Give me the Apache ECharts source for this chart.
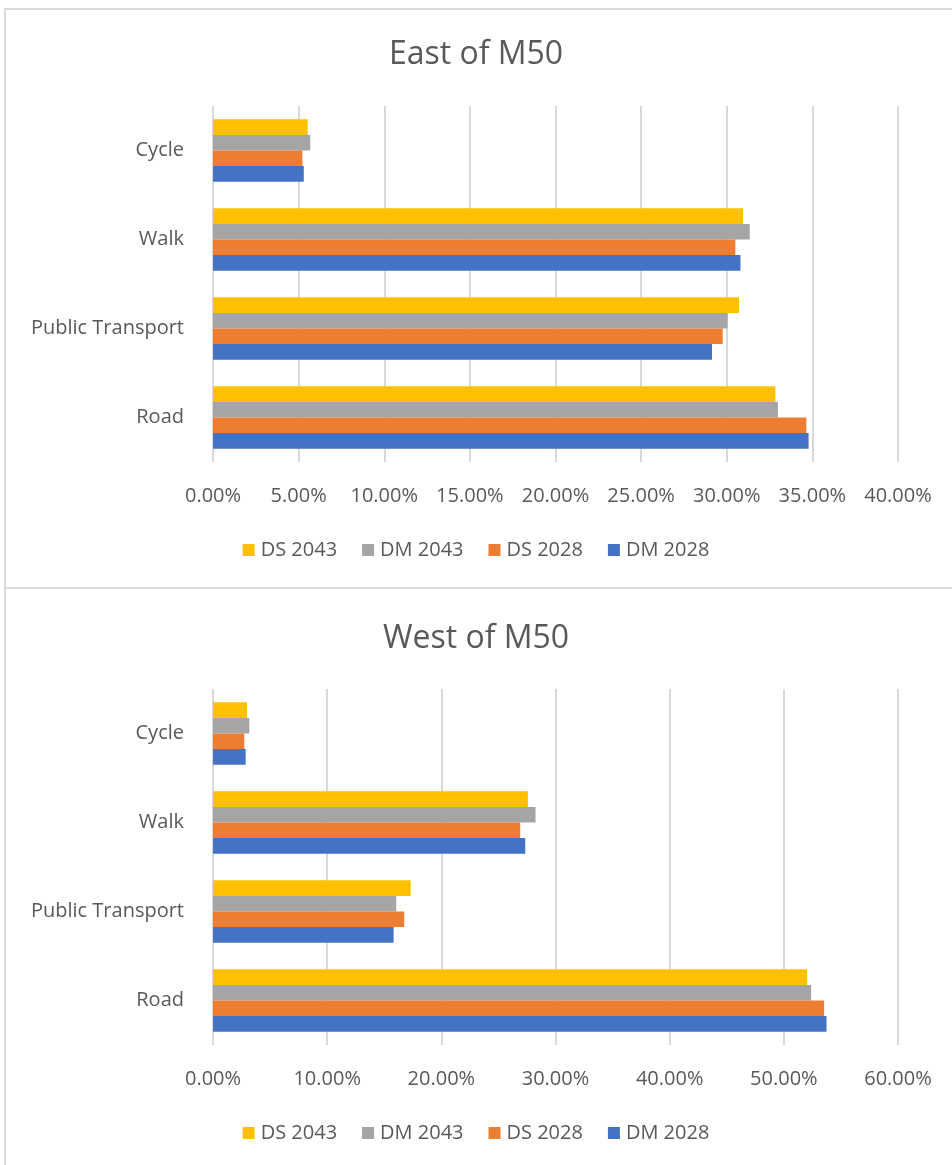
<!DOCTYPE html>
<html>
<head>
<meta charset="utf-8">
<script src="https://cdn.jsdelivr.net/npm/echarts@6/dist/echarts.min.js"></script>
<style>
  html, body { margin: 0; padding: 0; background: #fff; overflow: hidden; }
  .frame { position: absolute; box-sizing: border-box; border: 2px solid #d9d9d9; background: #fff; }
  #chart { position: absolute; left: 0; top: 0; width: 952px; height: 1165px; }
</style>
</head>
<body>
<div class="frame" style="left:4px; top:8px; width:980px; height:581px;"></div>
<div class="frame" style="left:4px; top:587px; width:980px; height:620px;"></div>
<div id="chart"></div>
<script>
// categories, bottom to top (as drawn by the category axis)
const categories = ['Road', 'Public Transport', 'Walk', 'Cycle'];
// series order: first one is drawn at the top of each group
const seriesNames = ['DS 2043', 'DM 2043', 'DS 2028', 'DM 2028'];
const seriesColors = ['#FFC000', '#A5A5A5', '#ED7D31', '#4472C4'];

// East of M50 (%)
const eastDS2043 = [32.84, 30.72, 30.95, 5.53];
const eastDM2043 = [32.99, 30.05, 31.34, 5.68];
const eastDS2028 = [34.65, 29.76, 30.50, 5.22];
const eastDM2028 = [34.78, 29.14, 30.80, 5.30];

// West of M50 (%)
const westDS2043 = [52.04, 17.31, 27.58, 2.98];
const westDM2043 = [52.39, 16.05, 28.25, 3.18];
const westDS2028 = [53.53, 16.75, 26.91, 2.74];
const westDM2028 = [53.74, 15.82, 27.35, 2.86];

const titles = ['East of M50', 'West of M50'];

const font = '"Open Sans", "Noto Sans", sans-serif';
const textColor = '#595959';

const chart = echarts.init(document.getElementById('chart'));

const eastData = [eastDS2043, eastDM2043, eastDS2028, eastDM2028];
const westData = [westDS2043, westDM2043, westDS2028, westDM2028];

// 构建一个子图的坐标轴
const makeX = (idx, max, interval) => ({
  type: 'value',
  gridIndex: idx,
  min: 0,
  max: max,
  interval: interval,
  axisLine: { show: false },
  axisTick: { show: false },
  splitLine: { show: true, lineStyle: { color: '#d9d9d9', width: 2 } },
  axisLabel: {
    margin: 24,
    color: textColor,
    fontSize: 20,
    fontFamily: font,
    formatter: v => v.toFixed(2) + '%'
  }
});

const makeY = idx => ({
  type: 'category',
  gridIndex: idx,
  data: categories,
  axisLine: { show: false },
  axisTick: { show: false },
  axisLabel: { margin: 29, color: textColor, fontSize: 20, fontFamily: font }
});

const makeSeries = (data, idx) => data.map((vals, i) => ({
  name: seriesNames[i],
  type: 'bar',
  xAxisIndex: idx,
  yAxisIndex: idx,
  data: vals,
  barGap: '0%',
  barCategoryGap: '30%',
  itemStyle: { color: seriesColors[i] },
  emphasis: { disabled: true }
}));

const legendBase = {
  data: seriesNames,
  left: 'center',
  icon: 'rect',
  itemWidth: 12,
  itemHeight: 12,
  itemGap: 25,
  selectedMode: false,
  textStyle: { color: textColor, fontSize: 20, fontFamily: font, padding: [0, 0, 0, 1] }
};

chart.setOption({
  animation: false,
  title: titles.map((t, i) => ({
    text: t,
    left: 'center',
    top: i === 0 ? 34 : 618,
    textStyle: { color: textColor, fontSize: 32, fontWeight: 'normal', fontFamily: font }
  })),
  legend: [
    { ...legendBase, top: 535 },
    { ...legendBase, top: 1118 }
  ],
  grid: [
    { left: 213, width: 685, top: 106, height: 356 },
    { left: 213, width: 685, top: 689, height: 356 }
  ],
  xAxis: [makeX(0, 40, 5), makeX(1, 60, 10)],
  yAxis: [makeY(0), makeY(1)],
  series: [...makeSeries(eastData, 0), ...makeSeries(westData, 1)]
});
</script>
</body>
</html>
